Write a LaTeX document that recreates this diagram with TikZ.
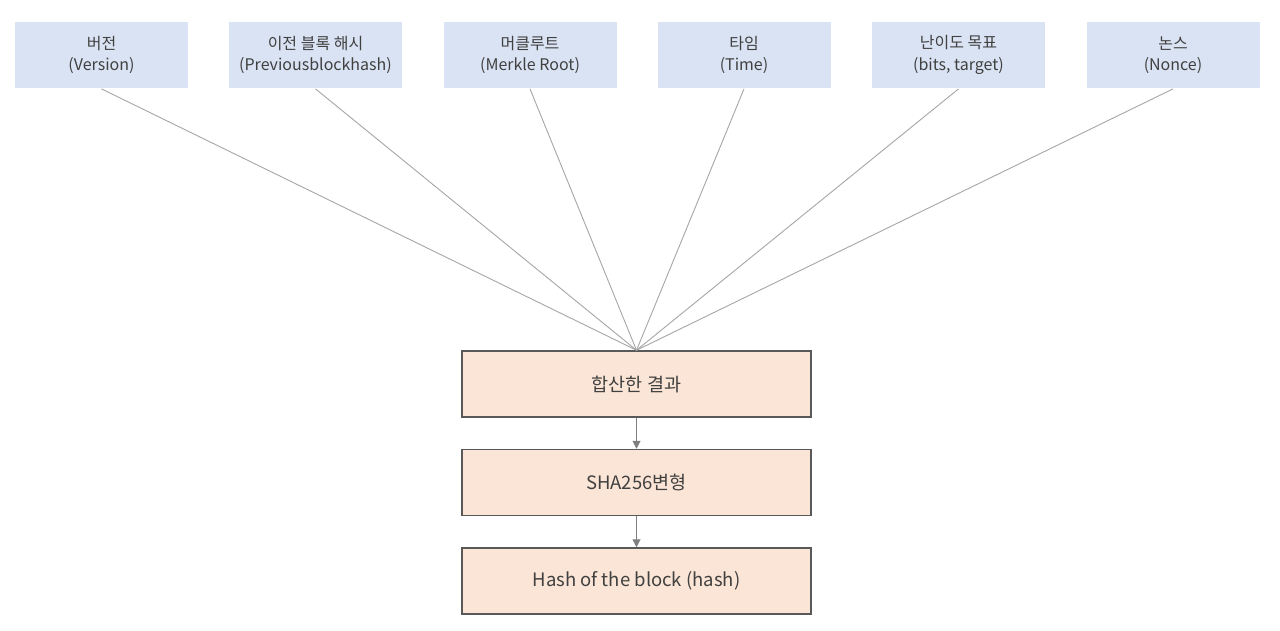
\documentclass[tikz,border=0pt]{standalone}
\usepackage{fontspec}
\setmainfont{Noto Sans CJK KR}
\usetikzlibrary{arrows.meta}
\definecolor{topfill}{HTML}{DAE3F3}
\definecolor{botfill}{HTML}{FBE5D6}
\definecolor{txt}{HTML}{404040}
\definecolor{edge}{HTML}{595959}
\definecolor{wire}{HTML}{A6A6A6}
\definecolor{arr}{HTML}{7F7F7F}
\begin{document}
\begin{tikzpicture}[x=1pt,y=-1pt,
  topbox/.style={fill=topfill,draw=white,line width=0.8pt,minimum width=174pt,minimum height=67pt,inner sep=0pt,align=center,text=txt,font=\fontsize{16}{21.5}\selectfont},
  botbox/.style={fill=botfill,draw=edge,line width=1.5pt,minimum width=349pt,minimum height=66pt,inner sep=0pt,align=center,text=txt,font=\fontsize{18.5}{22}\selectfont},
  wireline/.style={draw=wire,line width=0.9pt},
  flow/.style={draw=arr,line width=1pt,-{Triangle[length=8pt,width=8pt]}}]
\useasboundingbox (0,0) rectangle (1280,631);
\fill[white] (0,0) rectangle (1280,631);
\node[topbox] (v) at (101.5,55) {버전\\(Version)};
\node[topbox] (p) at (315.5,55) {이전 블록 해시\\(Previousblockhash)};
\node[topbox] (m) at (530,55) {머클루트\\(Merkle Root)};
\node[topbox] (t) at (744,55) {타임\\(Time)};
\node[topbox] (b) at (958.5,55) {난이도 목표\\(bits, target)};
\node[topbox] (n) at (1173,55) {논스\\(Nonce)};
\node[botbox] (c) at (636.5,384) {합산한 결과};
\node[botbox] (s) at (636.5,482.5) {SHA256변형};
\node[botbox] (h) at (636.5,581) {Hash of the block (hash)};
\foreach \k in {v,p,m,t,b,n}{\draw[wireline] (\k.south) -- (c.north);}
\draw[flow] (c.south) -- (s.north);
\draw[flow] (s.south) -- (h.north);
\end{tikzpicture}
\end{document}
